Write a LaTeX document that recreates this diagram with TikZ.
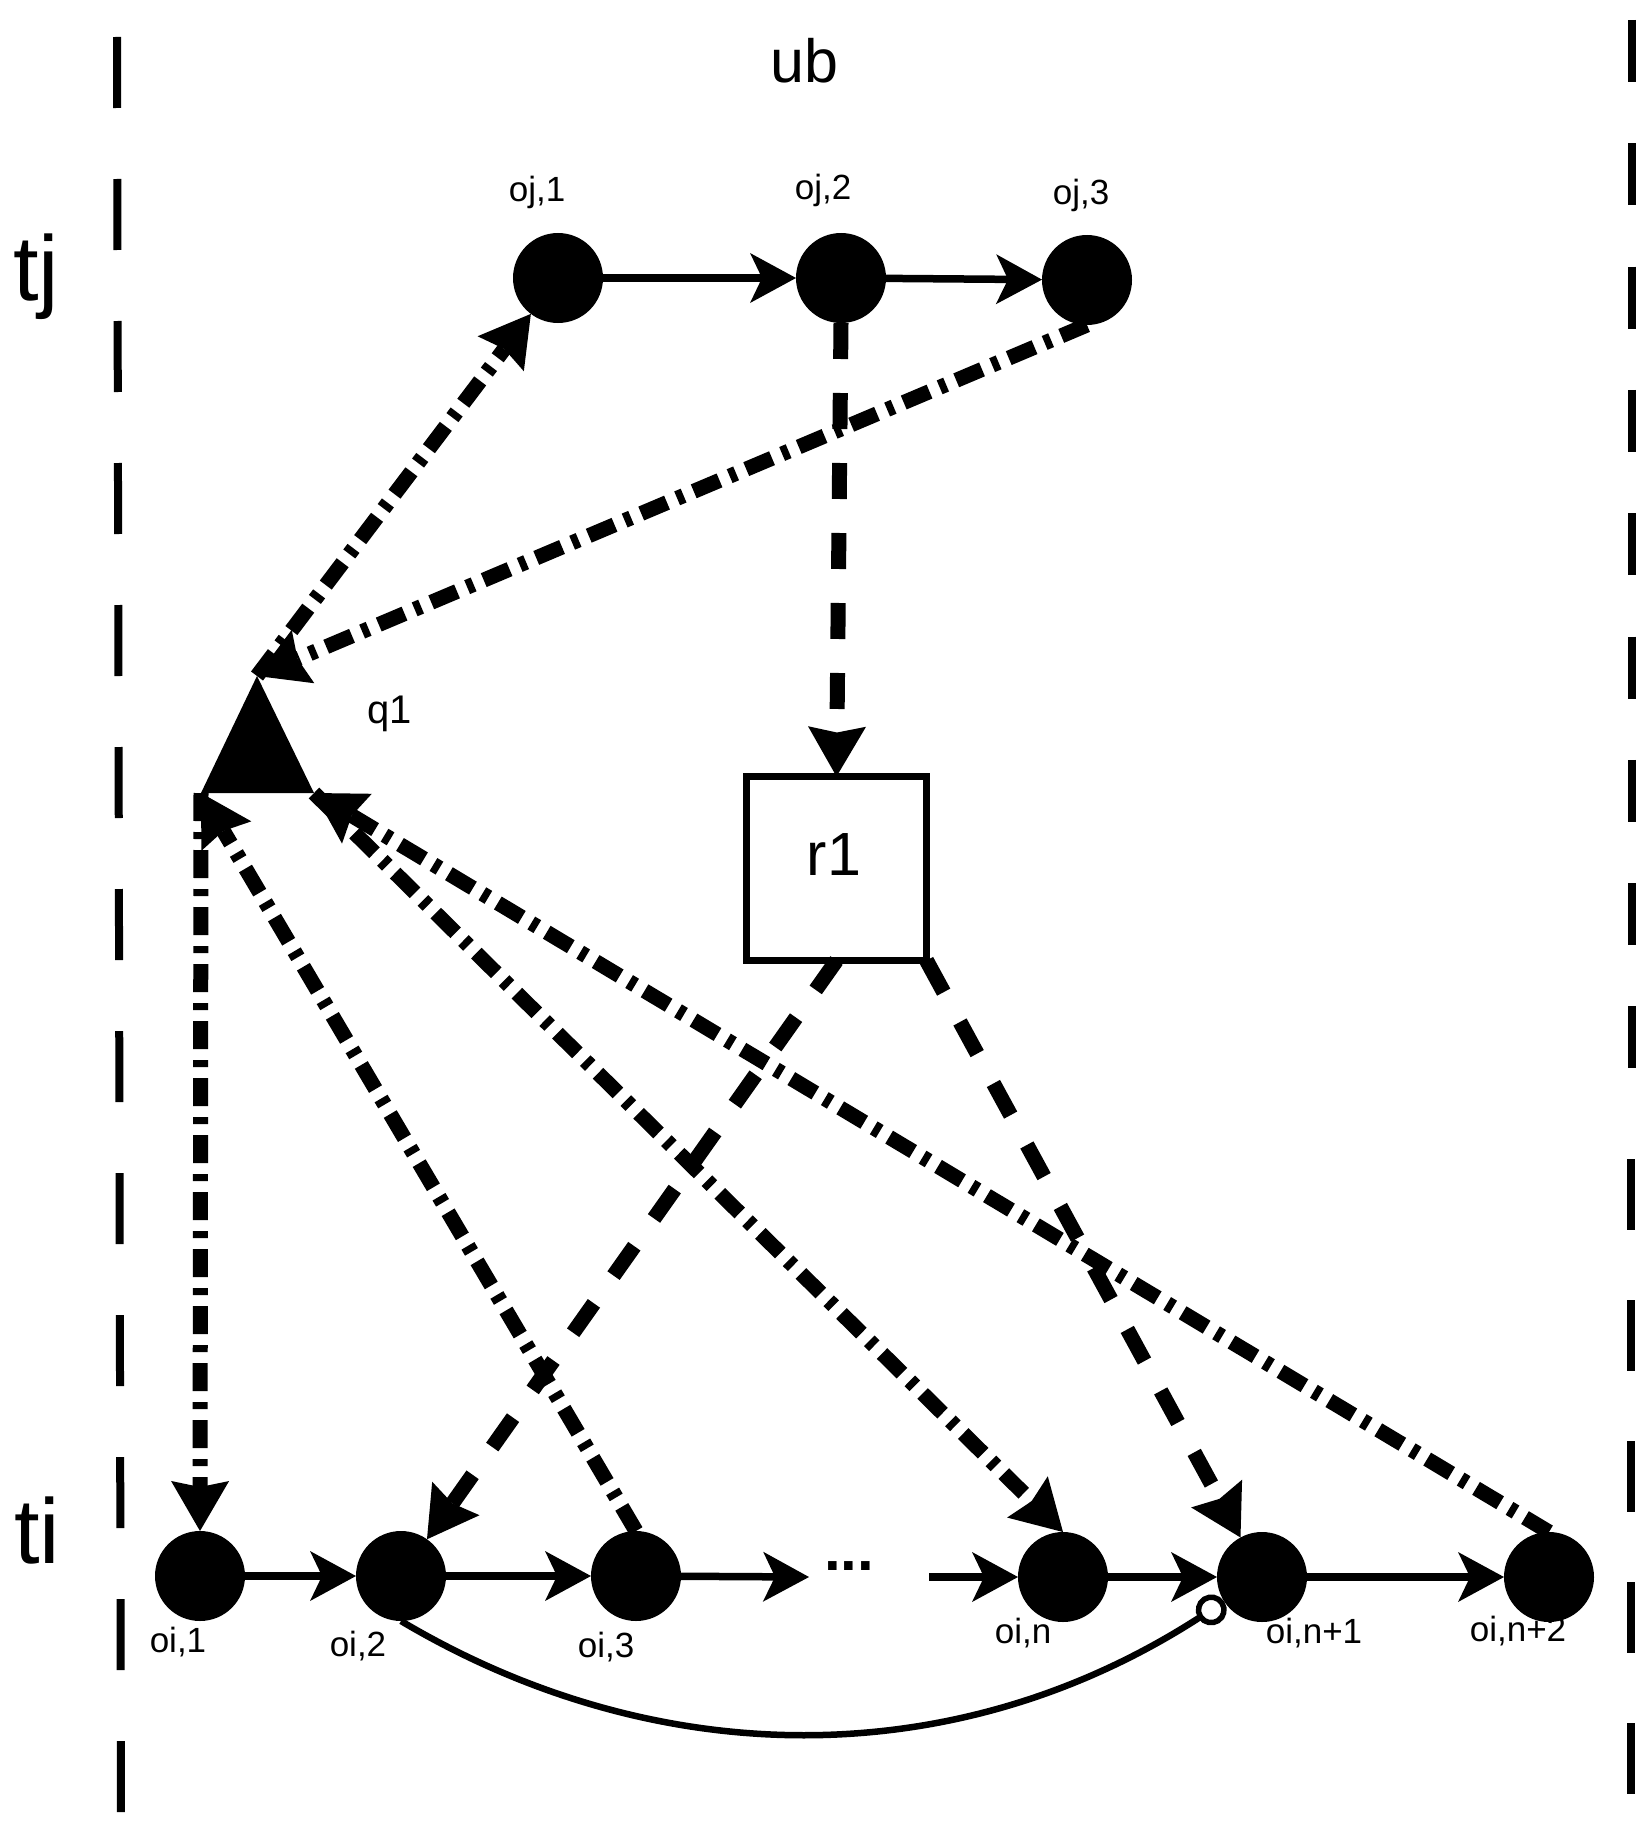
\documentclass[tikz,border=0pt]{standalone}
\usepackage{fontspec}
\setmainfont{Liberation Sans}
\usetikzlibrary{arrows.meta}
\begin{document}
\begin{tikzpicture}[x=1pt,y=-1pt,
  obj/.style={circle, fill=black, minimum size=90pt, inner sep=0pt, outer sep=0pt},
  lbl/.style={anchor=base, inner sep=0pt, font=\fontsize{35}{35}\selectfont},
  biglbl/.style={anchor=base, inner sep=0pt, font=\fontsize{92}{92}\selectfont},
  midlbl/.style={anchor=base, inner sep=0pt, font=\fontsize{61}{61}\selectfont},
  seqarrow/.style={line width=7.5pt, -{Stealth[length=46pt, width=50pt, inset=12pt, line width=0pt]}},
  ddarrow/.style={line width=15pt, dash pattern=on 28pt off 11pt on 7pt off 11pt,
    -{Stealth[length=50pt, width=58pt, inset=6pt, line width=0pt]}},
  dsharrow/.style={line width=15pt, dash pattern=on 36pt off 34pt,
    -{Stealth[length=50pt, width=58pt, inset=6pt, line width=0pt]}},
  lane/.style={line width=8pt}
]
\useasboundingbox (0,0) rectangle (1650,1827);

% lane borders
\draw[lane, dash pattern=on 71pt off 71pt] (117,37) -- (121,1817);
\draw[lane, dash pattern=on 62pt off 61.3pt] (1632,20) -- (1632,1068);
\draw[lane, dash pattern=on 71pt off 70pt] (1631,1159) -- (1631,1800);

% texts
\node[midlbl] (ub) at (804,83) {ub};
\node[biglbl] (tj) at (36,300) {tj};
\node[biglbl] (ti) at (37,1563) {ti};

% top objects
\node[obj] (oj1) at (558,278) {};
\node[obj] (oj2) at (841,278) {};
\node[obj] (oj3) at (1087,280) {};
\node[lbl] (oj1lab) at (537,202) {oj,1};
\node[lbl] (oj2lab) at (823,200) {oj,2};
\node[lbl] (oj3lab) at (1081,205) {oj,3};

% bottom objects
\node[obj] (oi1) at (200,1576) {};
\node[obj] (oi2) at (401,1576) {};
\node[obj] (oi3) at (636,1576) {};
\node[obj] (oin) at (1063,1577) {};
\node[obj] (oin1) at (1262,1577) {};
\node[obj] (oin2) at (1549,1577) {};
\node[lbl] (oi1lab) at (178,1652) {oi,1};
\node[lbl] (oi2lab) at (358,1656) {oi,2};
\node[lbl] (oi3lab) at (606,1657) {oi,3};
\node[lbl] (oinlab) at (1023,1643) {oi,n};
\node[lbl] (oin1lab) at (1314,1643) {oi,n+1};
\node[lbl] (oin2lab) at (1518,1641) {oi,n+2};
\node[anchor=base, inner sep=0pt, font=\bfseries\fontsize{60}{60}\selectfont] (dots) at (849,1570) {...};
\coordinate (dotsL) at (809,1577);
\coordinate (dotsR) at (929,1577);

% q1 triangle
\coordinate (q1apex) at (257,676);
\coordinate (q1left) at (201,793);
\coordinate (q1right) at (314,793);
\fill (q1apex) -- (q1left) -- (q1right) -- cycle;
\node[anchor=base, inner sep=0pt, font=\fontsize{40}{40}\selectfont] (q1lab) at (390,723) {q1};

% r1 box
\node[draw, line width=7pt, minimum width=180pt, minimum height=184pt, inner sep=0pt, outer sep=0pt] (r1) at (836.5,868.5) {};
\node[midlbl] (r1lab) at (834,875) {r1};

% sequence arrows
\draw[seqarrow] (oj1) -- (oj2);
\draw[seqarrow] (oj2) -- (oj3);
\draw[seqarrow] (oi1) -- (oi2);
\draw[seqarrow] (oi2) -- (oi3);
\draw[seqarrow] (oi3) -- (dotsL);
\draw[seqarrow] (dotsR) -- (oin);
\draw[seqarrow] (oin) -- (oin1);
\draw[seqarrow] (oin1) -- (oin2);

% dashed (r1)
\draw[dsharrow] (oj2.south) -- (r1.north);
\draw[dsharrow] (r1.south) -- (oi2);
\draw[dsharrow] (r1.south east) -- (oin1);

% dash-dot (q1)
\draw[ddarrow] (oj3.south) -- (q1apex);
\draw[ddarrow] (q1apex) -- (oj1);
\draw[ddarrow] (q1left) -- (oi1.north);
\draw[ddarrow] (oi3.north) -- (q1left);
\draw[ddarrow] (q1right) -- (oin.north);
\draw[ddarrow] (oin2.north) -- (q1right);

% curve with open circle
\draw[line width=6.5pt, -{Circle[open, length=31pt, width=31pt, line width=5.5pt]}]
  (oi2.south) .. controls (655,1772) and (955,1776) .. (oin1);
\end{tikzpicture}
\end{document}
